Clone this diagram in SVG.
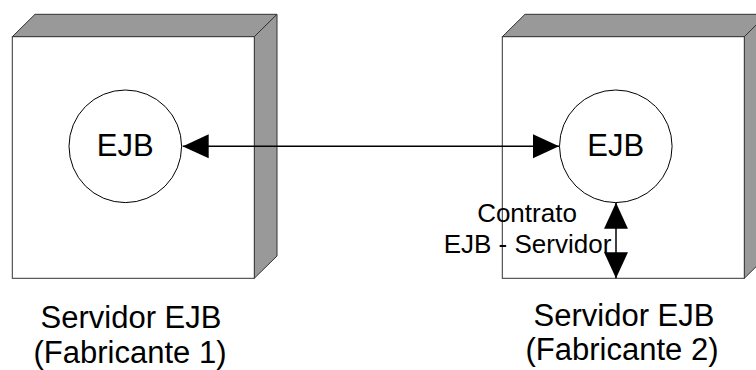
<svg xmlns="http://www.w3.org/2000/svg" width="756" height="370" viewBox="0 0 756 370">
  <style>
    .front { fill: #ffffff; stroke: #333333; stroke-width: 1; }
    .side { fill: #999999; stroke: #333333; stroke-width: 1; stroke-linejoin: miter; }
    .bean { fill: #ffffff; stroke: #000000; stroke-width: 1; }
    .lbl { font-family: "Liberation Sans", Arial, sans-serif; fill: #000000; text-anchor: middle; }
    .big { font-size: 31px; }
    .small { font-size: 26px; }
    .conn { stroke: #000000; stroke-width: 1.5; fill: none; }
  </style>
  <defs>
    <marker id="head" markerUnits="userSpaceOnUse" markerWidth="26" markerHeight="26" viewBox="0 -12 25 24" refX="25" refY="0" orient="auto-start-reverse">
      <path d="M0,-11.5 L25,0 L0,11.5 Z" fill="#000000"/>
    </marker>
  </defs>

  <!-- Server 1 -->
  <g id="server1">
    <polygon class="side" points="12.3,36.7 35,14.3 277,14.3 254.3,36.7"/>
    <polygon class="side" points="254.3,36.7 277,14.3 277,256 254.3,278.3"/>
    <rect class="front" x="12.3" y="36.7" width="242" height="241.6"/>
    <text class="lbl big" x="131" y="328">Servidor EJB</text>
    <text class="lbl big" x="130" y="363">(Fabricante 1)</text>
  </g>

  <!-- Server 2 -->
  <g id="server2">
    <polygon class="side" points="502.3,36.7 525,14.3 767,14.3 744.3,36.7"/>
    <polygon class="side" points="744.3,36.7 767,14.3 767,256 744.3,278.3"/>
    <rect class="front" x="502.3" y="36.7" width="242" height="241.6"/>
    <text class="lbl big" x="624" y="326">Servidor EJB</text>
    <text class="lbl big" x="622" y="360">(Fabricante 2)</text>
  </g>

  <!-- Beans -->
  <g id="ejb1">
    <circle class="bean" cx="125.3" cy="146.3" r="56.3"/>
    <text class="lbl big" x="125.3" y="155.7">EJB</text>
  </g>
  <g id="ejb2">
    <circle class="bean" cx="615.8" cy="146.3" r="56.3"/>
    <text class="lbl big" x="615.8" y="155.7">EJB</text>
  </g>

  <!-- Connectors -->
  <g id="connectors">
    <line class="conn" x1="182.7" y1="146.3" x2="559" y2="146.3" marker-start="url(#head)" marker-end="url(#head)"/>
    <line class="conn" x1="616" y1="202.7" x2="616" y2="278.3" marker-start="url(#head)" marker-end="url(#head)"/>
    <text class="lbl small" x="527" y="221.7">Contrato</text>
    <text class="lbl small" x="527.5" y="253.3">EJB - Servidor</text>
  </g>
</svg>
